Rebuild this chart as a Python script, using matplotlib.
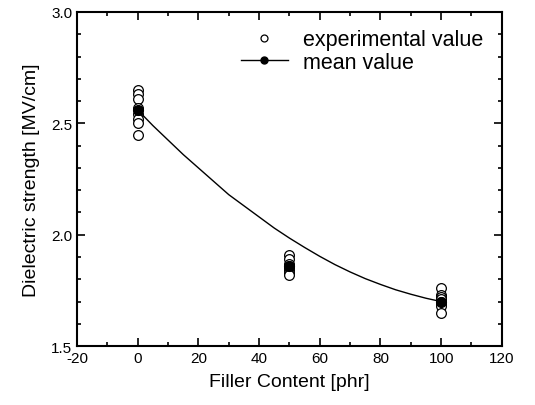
import matplotlib
matplotlib.use('Agg')
import matplotlib.pyplot as plt
import numpy as np

plt.rcParams['font.family'] = ['Liberation Sans', 'DejaVu Sans']
plt.rcParams['axes.unicode_minus'] = False

# experimental values (phr, MV/cm)
exp_x = [0]*8 + [50]*8 + [100]*8
exp_y = [2.65, 2.63, 2.61, 2.57, 2.54, 2.52, 2.50, 2.45,
         1.91, 1.89, 1.87, 1.86, 1.85, 1.84, 1.83, 1.82,
         1.76, 1.73, 1.72, 1.71, 1.70, 1.69, 1.68, 1.65]

# mean values
mean_x = [0, 50, 100]
mean_y = [2.56, 1.86, 1.70]

# fitted curve
curve_x = [0, 5, 10, 15, 20, 25, 30, 35, 40, 45, 50,
           55, 60, 65, 70, 75, 80, 85, 90, 95, 100]
curve_y = [2.56, 2.49, 2.425, 2.36, 2.30, 2.24, 2.18, 2.13, 2.08, 2.03, 1.985,
           1.943, 1.903, 1.866, 1.833, 1.803, 1.777, 1.753, 1.733, 1.715, 1.70]

fig = plt.figure(figsize=(5.35, 4.06), dpi=100)
ax = fig.add_axes([0.144, 0.145, 0.794, 0.823])

ax.plot(exp_x, exp_y, 'o', mfc='white', mec='black', ms=7, mew=0.9,
        linestyle='none', label='experimental value', zorder=2)
ax.plot(curve_x, curve_y, '-', color='black', lw=1, zorder=3)
ax.plot(mean_x, mean_y, 'o', color='black', ms=7, linestyle='none', zorder=4)
# legend proxy for line + filled marker
ax.plot([], [], '-o', color='black', lw=1, ms=5, label='mean value')

ax.set_xlim(-20, 120)
ax.set_ylim(1.5, 3.0)
ax.set_xticks(np.arange(-20, 121, 20))
ax.set_xticks(np.arange(-20, 121, 10), minor=True)
ax.set_yticks([1.5, 2.0, 2.5, 3.0])
ax.set_yticks(np.arange(1.5, 3.01, 0.1), minor=True)
ax.set_yticklabels(['1.5', '2.0', '2.5', '3.0'])
ax.tick_params(which='both', direction='in', top=True, right=True, width=1.2, labelsize=11)
ax.tick_params(which='major', length=6)
ax.tick_params(which='minor', length=3)
for s in ax.spines.values():
    s.set_linewidth(1.5)

ax.set_xlabel('Filler Content [phr]', fontsize=14, labelpad=6)
ax.set_ylabel('Dielectric strength [MV/cm]', fontsize=14, labelpad=8)

leg = ax.legend(loc='upper left', bbox_to_anchor=(0.36, 0.98), frameon=False,
                fontsize=15.5, handlelength=2.2, handletextpad=0.7,
                borderpad=0, labelspacing=0.05)
leg.legend_handles[0].set_markersize(5)

fig.savefig('out.png', dpi=100)
plt.close()
